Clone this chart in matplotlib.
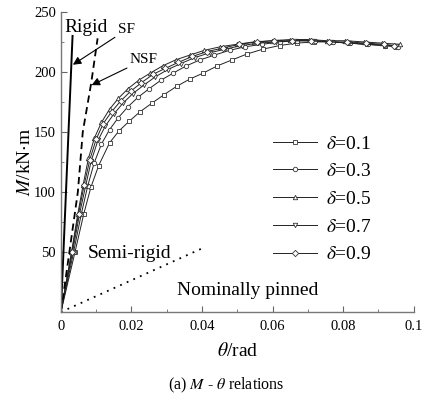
import matplotlib
matplotlib.use("Agg")
import matplotlib.pyplot as plt
from matplotlib.ticker import MultipleLocator

# M-theta curves (theta in rad, M in kN.m)
theta_d01 = [0, 0.0040, 0.0065, 0.0085, 0.0107, 0.0138, 0.0165, 0.0194, 0.0225,
             0.0258, 0.0292, 0.0328, 0.0365, 0.0403, 0.0443, 0.0485, 0.0528,
             0.0573, 0.0620, 0.0668, 0.0718, 0.0768, 0.0818, 0.0868, 0.0918, 0.0950]
m_d01 = [0, 50, 82, 104, 122, 141, 151, 159, 167, 174, 181, 188, 194, 199, 205,
         210, 215, 219, 222, 224, 225, 225, 224, 223, 222, 221]

theta_d03 = [0, 0.0036, 0.0058, 0.0076, 0.0094, 0.0115, 0.0138, 0.0163, 0.0190,
             0.0219, 0.0250, 0.0283, 0.0318, 0.0355, 0.0394, 0.0435, 0.0478,
             0.0523, 0.0570, 0.0620, 0.0670, 0.0720, 0.0770, 0.0820, 0.0870, 0.0920, 0.0955]
m_d03 = [0, 50, 82, 105, 124, 140, 152, 162, 171, 179, 186, 193, 199, 205, 210,
         214, 218, 221, 223, 225, 226, 226, 225, 224, 223, 222, 221]

theta_d05 = [0, 0.0030, 0.0048, 0.0063, 0.0078, 0.0095, 0.0115, 0.0138, 0.0163,
             0.0190, 0.0220, 0.0253, 0.0288, 0.0325, 0.0365, 0.0407, 0.0452,
             0.0498, 0.0547, 0.0598, 0.0650, 0.0702, 0.0754, 0.0806, 0.0858, 0.0910, 0.0960]
m_d05 = [0, 50, 82, 106, 128, 145, 158, 169, 178, 186, 193, 199, 205, 210, 214,
         218, 221, 223, 225, 226, 227, 227, 226, 226, 225, 224, 223]

theta_d07 = [0, 0.0033, 0.0053, 0.0070, 0.0086, 0.0105, 0.0126, 0.0150, 0.0176,
             0.0204, 0.0235, 0.0268, 0.0303, 0.0340, 0.0380, 0.0422, 0.0466,
             0.0512, 0.0560, 0.0610, 0.0660, 0.0712, 0.0764, 0.0816, 0.0868, 0.0920, 0.0950]
m_d07 = [0, 50, 82, 105, 126, 143, 155, 165, 174, 182, 189, 196, 202, 207, 212,
         216, 219, 222, 224, 225, 226, 226, 225, 224, 223, 222, 222]

theta_d09 = [0, 0.0031, 0.0050, 0.0066, 0.0082, 0.0100, 0.0120, 0.0144, 0.0170,
             0.0198, 0.0228, 0.0261, 0.0296, 0.0333, 0.0373, 0.0415, 0.0460,
             0.0506, 0.0555, 0.0605, 0.0656, 0.0708, 0.0760, 0.0812, 0.0864, 0.0916, 0.0945]
m_d09 = [0, 50, 82, 106, 127, 144, 157, 167, 176, 184, 191, 198, 203, 208, 213,
         217, 220, 223, 225, 226, 226, 226, 225, 225, 224, 223, 222]

deltas = ["0.1", "0.3", "0.5", "0.7", "0.9"]
markers = ["s", "o", "^", "v", "D"]

# classification boundaries
theta_rigid = [0, 0.0033]
m_rigid = [0, 230]
theta_sf = [0, 0.0048, 0.0062, 0.0086, 0.0104]
m_sf = [0, 100, 150, 191, 228]
theta_pinned = [0, 0.040]
m_pinned = [0, 53]

plt.rcParams["font.family"] = ["Liberation Serif", "DejaVu Serif"]
plt.rcParams["mathtext.fontset"] = "stix"

fig = plt.figure(figsize=(4.23, 3.97), dpi=100)
ax = fig.add_axes([0.144, 0.214, 0.834, 0.756])

curves = [(theta_d01, m_d01), (theta_d03, m_d03), (theta_d05, m_d05),
          (theta_d07, m_d07), (theta_d09, m_d09)]
for (th, m), d, mk in zip(curves, deltas, markers):
    ax.plot(th, m, color="#222222", linewidth=0.7, marker=mk, markersize=3.2,
            markerfacecolor="white", markeredgecolor="#333333",
            markeredgewidth=0.6, markevery=slice(1, None),
            label=r"$\delta$=" + d)

ax.plot(theta_rigid, m_rigid, color="black", linewidth=1.4)
ax.plot(theta_sf, m_sf, color="black", linewidth=1.3, linestyle=(0, (4, 2.5)))
ax.plot(theta_pinned, m_pinned, color="black", linewidth=1.3, linestyle=(0, (1, 3)))

# text labels
ax.text(0.007, 237, "Rigid", fontsize=14, ha="center", va="center")
ax.text(0.0195, 49, "Semi-rigid", fontsize=14, ha="center", va="center")
ax.text(0.053, 18, "Nominally pinned", fontsize=14, ha="center", va="center")

arrow = dict(arrowstyle="-|>", color="black", linewidth=0.8,
             mutation_scale=12, shrinkA=0, shrinkB=0)
ax.annotate("SF", xy=(0.0034, 206), xytext=(0.0161, 235), fontsize=11,
            ha="left", va="center", arrowprops=arrow)
ax.annotate("NSF", xy=(0.0087, 189), xytext=(0.0195, 210), fontsize=11,
            ha="left", va="center", arrowprops=arrow)

ax.set_xlim(0, 0.1)
ax.set_ylim(0, 250)
ax.xaxis.set_minor_locator(MultipleLocator(0.01))
ax.yaxis.set_minor_locator(MultipleLocator(25))
ax.set_xticks([0, 0.02, 0.04, 0.06, 0.08, 0.1])
ax.set_xticklabels(["0", "0.02", "0.04", "0.06", "0.08", "0.1"])
ax.set_yticks([50, 100, 150, 200, 250])
ax.tick_params(which="both", direction="in", color="#666666")
ax.tick_params(which="major", length=4)
ax.tick_params(which="minor", length=2.5)
ax.tick_params(axis="x", labelsize=10.5, pad=6)
ax.tick_params(axis="y", labelsize=10.5)

for side in ["top", "right"]:
    ax.spines[side].set_visible(False)
for side in ["left", "bottom"]:
    ax.spines[side].set_color("#777777")
    ax.spines[side].set_linewidth(1.0)

ax.set_xlabel(r"$\theta$/rad", fontsize=14, labelpad=6)
ax.set_ylabel(r"$M$/kN$\cdot$m", fontsize=14, labelpad=0)

ax.legend(loc="upper left", bbox_to_anchor=(0.60, 0.59), frameon=False,
          fontsize=14, handlelength=2.3, handletextpad=0.45, labelspacing=0.52,
          borderpad=0, borderaxespad=0)

fig.text(0.535, 0.03, r"(a) $M$ - $\theta$ relations", fontsize=11.5,
         ha="center", va="center")

fig.savefig("out.png", dpi=100)
